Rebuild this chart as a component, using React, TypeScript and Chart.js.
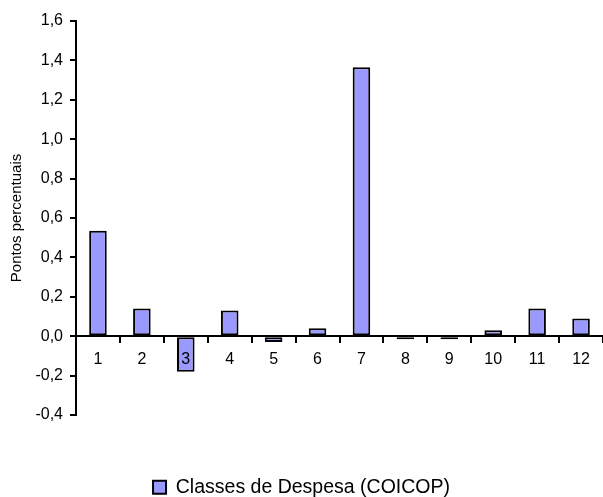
import React, { useEffect, useRef } from 'react';
import { Chart, registerables } from 'chart.js';

Chart.register(...registerables);

const categories: string[] = ['1', '2', '3', '4', '5', '6', '7', '8', '9', '10', '11', '12'];
const values: number[] = [0.535, 0.14, -0.18, 0.13, -0.03, 0.04, 1.365, -0.015, -0.015, 0.03, 0.14, 0.09];
const seriesLabel = 'Classes de Despesa (COICOP)';
const yAxisTitle = 'Pontos percentuais';
const yMin = -0.4;
const yMax = 1.6;
const yStep = 0.2;

const FONT = '"Liberation Sans", Arial, sans-serif';

export default function App() {
  const ref = useRef<HTMLCanvasElement | null>(null);

  useEffect(() => {
    document.body.style.margin = '0';
    const canvas = ref.current;
    if (!canvas) return;
    const chart = new Chart(canvas, {
      type: 'bar',
      data: {
        labels: categories,
        datasets: [
          {
            label: seriesLabel,
            data: values,
            backgroundColor: '#9999FF',
            borderColor: '#000000',
            borderWidth: 2,
            borderSkipped: false,
            barPercentage: 0.4,
            categoryPercentage: 1,
          },
        ],
      },
      options: {
        responsive: false,
        animation: false,
        layout: { padding: { top: 21, left: 0, right: 0, bottom: -10 } },
        plugins: {
          tooltip: { enabled: false },
          legend: {
            position: 'bottom',
            labels: {
              boxWidth: 13,
              boxHeight: 13,
              padding: 62.5,
              color: '#000',
              font: { family: FONT, size: 19.5 },
            },
          },
        },
        scales: {
          x: {
            type: 'category',
            position: { y: 0 } as any,
            offset: true,
            grid: {
              offset: true,
              drawOnChartArea: false,
              drawTicks: true,
              tickLength: 6,
              color: '#000',
              lineWidth: 2,
            },
            border: { display: true, color: '#000', width: 2, z: 1 } as any,
            ticks: {
              z: 1,
              color: '#000',
              font: { family: FONT, size: 16 },
              padding: 8,
              maxRotation: 0,
              autoSkip: false,
            },
          },
          y: {
            min: yMin,
            max: yMax,
            afterFit: (scale: any) => {
              scale.width = 76;
            },
            grid: {
              drawOnChartArea: false,
              drawTicks: true,
              tickLength: 6,
              color: '#000',
              lineWidth: 2,
            },
            border: { display: true, color: '#000', width: 2 },
            ticks: {
              stepSize: yStep,
              color: '#000',
              padding: 7,
              font: { family: FONT, size: 16 },
              callback: (v: any) => Number(v).toFixed(1).replace('.', ','),
            },
            title: {
              display: true,
              text: yAxisTitle,
              color: '#000',
              font: { family: FONT, size: 15 },
              padding: { top: 8, bottom: 0 },
            },
          },
        },
      },
    });
    return () => chart.destroy();
  }, []);

  return (
    <div style={{ width: 603, height: 497 }}>
      <canvas ref={ref} width={603} height={497} />
    </div>
  );
}
